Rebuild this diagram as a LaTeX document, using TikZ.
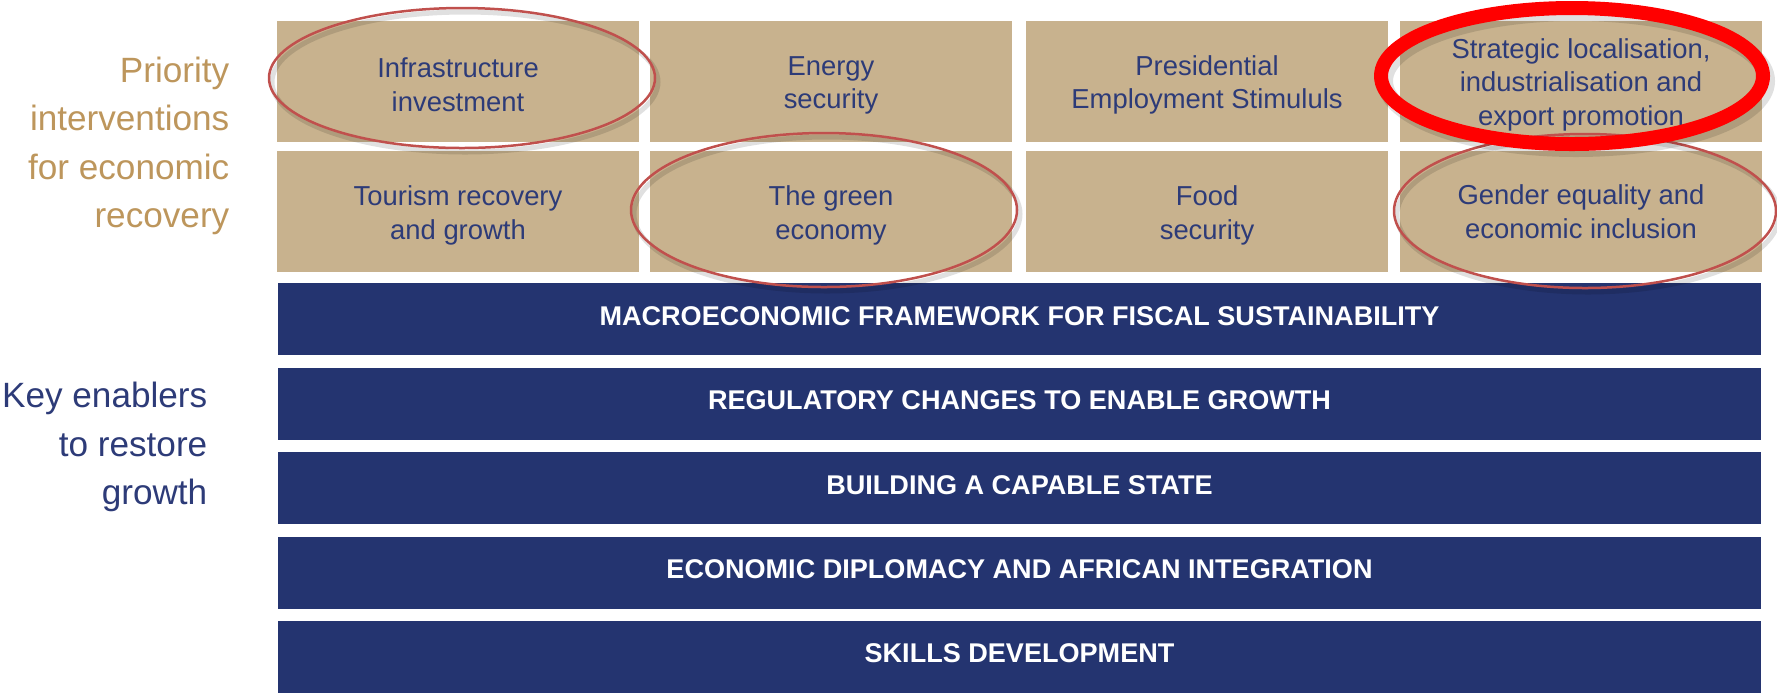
\documentclass[tikz,border=0pt]{standalone}
\usepackage{fontspec}
\setmainfont{Liberation Sans}
\definecolor{tanbox}{HTML}{C8B28E}
\definecolor{navybar}{HTML}{243470}
\definecolor{navytext}{HTML}{2D3B78}
\definecolor{goldtext}{HTML}{BD965C}
\definecolor{ringred}{HTML}{C0504D}
\newcommand\toppad{\rule{0pt}{7.8pt}}
\tikzset{
  prio/.style={fill=tanbox,text=navytext,inner sep=0pt,minimum width=36.2mm,
    minimum height=12.1mm,align=center,font=\fontsize{7.8}{9.6}\selectfont},
  enabler/.style={fill=navybar,text=white,inner sep=0pt,minimum width=148.3mm,
    minimum height=7.2mm,text depth=1.9pt,font=\fontsize{7.7}{9}\selectfont\bfseries},
  sidelabel/.style={anchor=east,align=right,inner sep=0pt,font=\fontsize{10}{13.8}\selectfont},
  ring/.style={draw=ringred,line width=.25mm},
  bigring/.style={draw=red,line width=1.4mm},
  ringshadow/.style={draw=black,opacity=.12}
}
\begin{document}
\begin{tikzpicture}[x=.1mm,y=-.1mm]
   \useasboundingbox (0,0) rectangle (1777,694);

     \path (230,146) node[sidelabel,text=goldtext] (prioL) {Priority\\interventions\\for economic\\recovery};
     \path (208,447) node[sidelabel,text=navytext] (keyL) {Key enablers\\to restore\\growth};

     \path (458,81) node[prio] (p1) {\toppad Infrastructure\\investment};
     \path (831,81) node[prio] (p2) {\toppad Energy\\security};
     \path (1207,81) node[prio] (p3) {\toppad Presidential\\Employment Stimululs};
     \path (1581,81) node[prio] (p4) {\toppad Strategic localisation,\\industrialisation and\\export promotion};
     \path (458,211.5) node[prio] (p5) {\toppad Tourism recovery\\and growth};
     \path (831,211.5) node[prio] (p6) {\toppad The green\\economy};
     \path (1207,211.5) node[prio] (p7) {\toppad Food\\security};
     \path (1581,211.5) node[prio] (p8) {Gender equality and\\economic inclusion};

     \path (1019.5,319) node[enabler] (e1) {MACROECONOMIC FRAMEWORK FOR FISCAL SUSTAINABILITY};
     \path (1019.5,403.5) node[enabler] (e2) {REGULATORY CHANGES TO ENABLE GROWTH};
     \path (1019.5,488) node[enabler] (e3) {BUILDING A CAPABLE STATE};
     \path (1019.5,572.5) node[enabler] (e4) {ECONOMIC DIPLOMACY AND AFRICAN INTEGRATION};
     \path (1019.5,656.5) node[enabler] (e5) {SKILLS DEVELOPMENT};

     \draw[ringshadow,line width=.5mm] (465,82) ellipse (193 and 70);
     \draw[ringshadow,line width=.5mm] (827,214) ellipse (193 and 77);
     \draw[ringshadow,line width=.5mm] (1588,215) ellipse (191 and 77);
     \draw[ring] (462,78) ellipse (193 and 70);
     \draw[ring] (824,210) ellipse (193 and 77);
     \draw[ring] (1585,211) ellipse (191 and 77);

     \draw[ringshadow,line width=1.6mm] (1576,81) ellipse (191 and 68);
     \draw[bigring] (1572,76) ellipse (191 and 68);

   \end{tikzpicture}
\end{document}
